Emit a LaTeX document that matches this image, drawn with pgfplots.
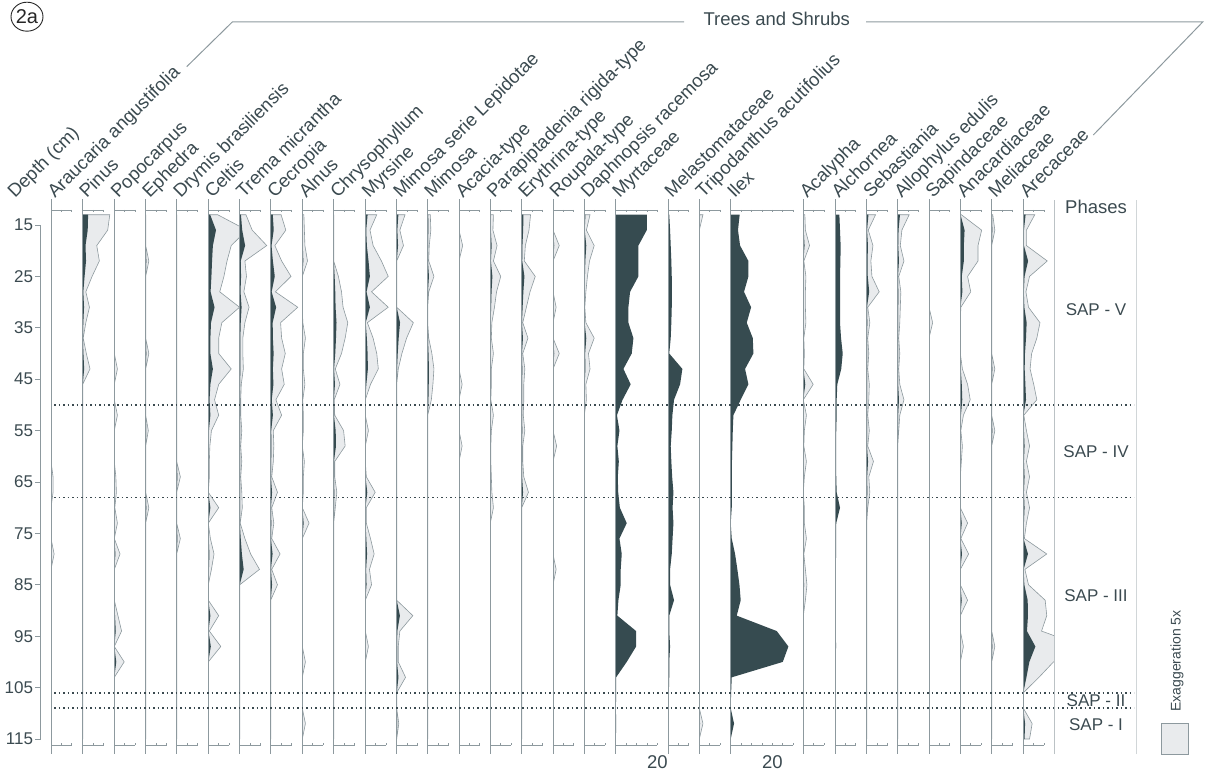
\documentclass[border=0pt]{standalone}
\usepackage{pgfplots}
\pgfplotsset{compat=1.18}
\usepackage{pgfplotstable}
\usepackage{fontspec}
\setmainfont{Liberation Sans}
\definecolor{darkf}{HTML}{364B50}
\definecolor{lightf}{HTML}{E9EBED}
\definecolor{gline}{HTML}{8D999E}
\definecolor{textc}{HTML}{3B4A50}
\newcommand{\lab}{\fontsize{18.5}{21}\selectfont}
\newcommand{\tickf}{\fontsize{17}{19}\selectfont}

% ---------- data: depth (cm), percentage ----------
\pgfplotstableread[row sep=\\]{d v\\ 13 0\\ 61 0\\ 64 0.2\\ 67 0.2\\ 70 0\\ 76 0\\ 79 0.3\\ 82 0\\ 115 0\\}\tAra
\pgfplotstableread[row sep=\\]{d v\\ 13 0\\ 13 2.6\\ 16 2.4\\ 19 1.35\\ 22 1.6\\ 25 0.9\\ 28 0.3\\ 31 0.65\\ 34 0.3\\ 37 0.05\\ 40 0.35\\ 43 0.7\\ 46 0\\ 115 0\\}\tPin
\pgfplotstableread[row sep=\\]{d v\\ 13 0\\ 40 0\\ 43 0.3\\ 46 0\\ 49 0\\ 52 0.3\\ 55 0\\ 61 0\\ 64 0.15\\ 67 0.2\\ 70 0.05\\ 73 0.3\\ 76 0\\ 79 0.55\\ 82 0\\ 88 0\\ 91 0.35\\ 94 0.7\\ 97 0\\ 100 0.95\\ 103 0\\ 115 0\\}\tPop
\pgfplotstableread[row sep=\\]{d v\\ 13 0\\ 19 0\\ 22 0.3\\ 25 0\\ 37 0\\ 40 0.3\\ 43 0\\ 52 0\\ 55 0.25\\ 58 0\\ 67 0\\ 70 0.3\\ 73 0\\ 115 0\\}\tEph
\pgfplotstableread[row sep=\\]{d v\\ 13 0\\ 61 0\\ 64 0.35\\ 67 0\\ 73 0\\ 76 0.35\\ 79 0\\ 115 0\\}\tDry
\pgfplotstableread[row sep=\\]{d v\\ 13 0\\ 13 0.9\\ 16 3.7\\ 19 2.2\\ 22 1.8\\ 25 1.5\\ 28 1.1\\ 31 3.0\\ 34 1.3\\ 37 1.0\\ 40 1.0\\ 43 2.2\\ 46 1.0\\ 49 0.6\\ 52 1.0\\ 55 0.3\\ 58 0.15\\ 61 0.1\\ 64 0.1\\ 67 0\\ 70 1.0\\ 73 0\\ 76 0.2\\ 79 0.55\\ 82 0.3\\ 85 0\\ 88 0\\ 91 1.0\\ 94 0.1\\ 97 1.2\\ 100 0\\ 115 0\\}\tCel
\pgfplotstableread[row sep=\\]{d v\\ 13 0\\ 13 0.6\\ 16 1.2\\ 19 2.6\\ 22 0.5\\ 25 0.65\\ 28 0.4\\ 31 0.9\\ 34 0.5\\ 37 0.3\\ 40 0.3\\ 43 0.35\\ 46 0.15\\ 49 0.1\\ 52 0.1\\ 55 0.2\\ 58 0.1\\ 61 0.2\\ 64 0.1\\ 67 0.2\\ 70 0.25\\ 73 0.05\\ 76 0.5\\ 79 1.05\\ 82 1.9\\ 85 0\\ 115 0\\}\tTre
\pgfplotstableread[row sep=\\]{d v\\ 13 0\\ 13 1.0\\ 16 1.45\\ 19 0.4\\ 22 1.05\\ 25 1.95\\ 28 0.45\\ 31 2.6\\ 34 0.95\\ 37 1.05\\ 40 1.4\\ 43 1.05\\ 46 1.3\\ 49 0.5\\ 52 1.05\\ 55 0.25\\ 58 0.3\\ 61 0.25\\ 64 0.1\\ 67 0.65\\ 70 0.1\\ 73 0.3\\ 76 0.1\\ 79 0.9\\ 82 0.1\\ 85 0.65\\ 88 0\\ 115 0\\}\tCec
\pgfplotstableread[row sep=\\]{d v\\ 13 0\\ 13 0.15\\ 16 0.2\\ 19 0.25\\ 22 0.5\\ 25 0\\ 31 0\\ 34 0.05\\ 37 0.3\\ 40 0.1\\ 43 0.1\\ 46 0.25\\ 49 0.05\\ 52 0.1\\ 55 0.1\\ 58 0\\ 61 0.2\\ 64 0.1\\ 67 0.1\\ 70 0\\ 73 0.65\\ 76 0\\ 97 0\\ 100 0.3\\ 103 0\\ 109 0\\ 112 0.3\\ 115 0\\}\tAln
\pgfplotstableread[row sep=\\]{d v\\ 13 0\\ 22 0\\ 25 0.45\\ 28 0.75\\ 31 0.9\\ 34 1.35\\ 37 1.1\\ 40 0.75\\ 43 0.15\\ 46 0.6\\ 49 0.05\\ 52 0.1\\ 55 0.95\\ 58 1.1\\ 61 0.1\\ 64 0.1\\ 67 0.3\\ 70 0.15\\ 73 0\\ 115 0\\}\tChr
\pgfplotstableread[row sep=\\]{d v\\ 13 0\\ 13 1.1\\ 16 0.45\\ 19 0.75\\ 22 1.55\\ 25 2.2\\ 28 0.6\\ 31 2.2\\ 34 0.2\\ 37 0.75\\ 40 1.1\\ 43 1.25\\ 46 0.5\\ 49 0\\ 52 0\\ 55 0.3\\ 58 0\\ 61 0\\ 64 0.1\\ 67 0.95\\ 70 0.1\\ 73 0.1\\ 76 0.5\\ 79 0.85\\ 82 0.4\\ 85 0.6\\ 88 0\\ 94 0\\ 97 0.3\\ 100 0\\ 115 0\\}\tMyr
\pgfplotstableread[row sep=\\]{d v\\ 13 0\\ 13 0.8\\ 16 0.3\\ 19 0.65\\ 22 0\\ 31 0\\ 34 1.6\\ 37 0.95\\ 40 0.5\\ 43 0.15\\ 46 0\\ 88 0\\ 91 1.55\\ 94 0.3\\ 97 0.15\\ 100 0.15\\ 103 0.85\\ 106 0\\ 109 0\\ 112 0.2\\ 115 0\\}\tMsl
\pgfplotstableread[row sep=\\]{d v\\ 13 0\\ 13 0.25\\ 16 0.3\\ 19 0.15\\ 22 0.1\\ 25 0.6\\ 28 0.1\\ 31 0\\ 34 0\\ 37 0.1\\ 40 0.4\\ 43 0.6\\ 46 0.5\\ 49 0.35\\ 52 0\\ 115 0\\}\tMim
\pgfplotstableread[row sep=\\]{d v\\ 13 0\\ 16 0\\ 19 0.35\\ 22 0\\ 43 0\\ 46 0.3\\ 49 0\\ 55 0\\ 58 0.3\\ 61 0\\ 115 0\\}\tAca
\pgfplotstableread[row sep=\\]{d v\\ 13 0\\ 13 0.3\\ 16 0.25\\ 19 0.65\\ 22 0.3\\ 25 1.0\\ 28 0.6\\ 31 0.4\\ 34 0.15\\ 37 0.1\\ 40 0.3\\ 43 0.1\\ 46 0.1\\ 49 0.05\\ 52 0.3\\ 55 0.1\\ 58 0.05\\ 61 0.05\\ 64 0.1\\ 67 0.15\\ 70 0.3\\ 73 0\\ 115 0\\}\tPar
\pgfplotstableread[row sep=\\]{d v\\ 13 0\\ 13 0.85\\ 16 0.7\\ 19 0.35\\ 22 0.25\\ 25 1.3\\ 28 0.8\\ 31 0.45\\ 34 0.1\\ 37 0.6\\ 40 0.1\\ 43 0.3\\ 46 0.2\\ 49 0.2\\ 52 0.15\\ 55 0.3\\ 58 0.1\\ 61 0.1\\ 64 0.2\\ 67 0.65\\ 70 0\\ 115 0\\}\tEry
\pgfplotstableread[row sep=\\]{d v\\ 13 0\\ 16 0\\ 19 0.6\\ 22 0\\ 28 0\\ 31 0.3\\ 34 0\\ 37 0\\ 40 0.6\\ 43 0\\ 55 0\\ 58 0.35\\ 61 0\\ 79 0\\ 82 0.3\\ 85 0\\ 115 0\\}\tRou
\pgfplotstableread[row sep=\\]{d v\\ 13 0\\ 13 0.55\\ 16 0.2\\ 19 0.95\\ 22 0.5\\ 25 0.3\\ 28 0.15\\ 31 0.05\\ 34 0.15\\ 37 0.95\\ 40 0.4\\ 43 0.55\\ 46 0.15\\ 49 0.2\\ 52 0\\ 115 0\\}\tDap
\pgfplotstableread[row sep=\\]{d v\\ 13 0\\ 13 14.9\\ 16 14.9\\ 19 10.9\\ 22 10.9\\ 25 10.9\\ 28 6.9\\ 31 6.1\\ 34 6.1\\ 37 8.5\\ 40 7.7\\ 43 3.7\\ 46 7.2\\ 49 3.3\\ 52 0.6\\ 55 1.8\\ 58 0.8\\ 61 1.5\\ 64 1.0\\ 67 1.2\\ 70 2.0\\ 73 5.3\\ 76 1.8\\ 79 2.9\\ 82 2.4\\ 85 2.4\\ 88 1.3\\ 91 0.8\\ 94 9.8\\ 97 9.8\\ 100 5.3\\ 103 0.2\\ 106 0.2\\ 109 0.1\\ 112 0.2\\ 115 0.1\\ 115 0\\}\tMyt
\pgfplotstableread[row sep=\\]{d v\\ 13 0\\ 13 0.6\\ 16 1.0\\ 19 1.3\\ 22 1.6\\ 25 1.8\\ 28 1.8\\ 31 1.8\\ 34 1.6\\ 37 1.3\\ 40 0.6\\ 43 6.9\\ 46 5.8\\ 49 2.9\\ 52 2.1\\ 55 1.8\\ 58 1.3\\ 61 1.6\\ 64 2.0\\ 67 2.6\\ 70 2.2\\ 73 2.6\\ 76 2.2\\ 79 1.8\\ 82 1.0\\ 85 1.0\\ 88 2.9\\ 91 0.6\\ 94 0.6\\ 97 1.0\\ 100 0.6\\ 103 0.6\\ 106 0.4\\ 109 0.3\\ 112 0.3\\ 115 0.3\\ 115 0\\}\tMel
\pgfplotstableread[row sep=\\]{d v\\ 13 0\\ 13 0.35\\ 16 0\\ 109 0\\ 112 0.35\\ 115 0\\}\tTri
\pgfplotstableread[row sep=\\]{d v\\ 13 0\\ 13 4.3\\ 16 3.5\\ 19 4.5\\ 22 8.5\\ 25 8.5\\ 28 6.4\\ 31 9.8\\ 34 7.7\\ 37 10.6\\ 40 10.9\\ 43 6.9\\ 46 8.5\\ 49 4.8\\ 52 1.3\\ 55 1.0\\ 58 0.8\\ 61 0.6\\ 64 0.5\\ 67 0.5\\ 70 0.5\\ 73 0\\ 76 0.5\\ 79 2.1\\ 82 3.2\\ 85 4.2\\ 88 4.8\\ 91 2.9\\ 94 22.1\\ 97 27.7\\ 100 25.0\\ 103 0.5\\ 106 0.2\\ 109 0\\ 112 1.6\\ 115 0\\}\tIle
\pgfplotstableread[row sep=\\]{d v\\ 13 0\\ 13 0.15\\ 16 0.2\\ 19 0.6\\ 22 0.05\\ 25 0.25\\ 28 0.2\\ 31 0.2\\ 34 0.25\\ 37 0.05\\ 40 0.1\\ 43 0.05\\ 46 0.95\\ 49 0\\ 52 0.3\\ 55 0.1\\ 58 0.05\\ 61 0.3\\ 64 0.1\\ 67 0\\ 70 0.1\\ 73 0.1\\ 76 0.3\\ 79 0.05\\ 82 0.2\\ 85 0.35\\ 88 0.2\\ 91 0\\ 115 0\\}\tAcl
\pgfplotstableread[row sep=\\]{d v\\ 13 0\\ 13 2.1\\ 16 2.4\\ 19 2.7\\ 22 2.6\\ 25 2.4\\ 28 2.4\\ 31 2.4\\ 34 2.4\\ 37 2.9\\ 40 3.7\\ 43 3.0\\ 46 1.1\\ 49 0.8\\ 52 0.8\\ 55 0.6\\ 58 0.5\\ 61 0.5\\ 64 0.6\\ 67 0.8\\ 70 2.4\\ 73 0.6\\ 76 0.5\\ 79 0.5\\ 82 0.4\\ 85 0.4\\ 88 0.4\\ 91 0.4\\ 94 0.4\\ 97 0.5\\ 100 0.3\\ 103 0\\ 115 0\\}\tAlc
\pgfplotstableread[row sep=\\]{d v\\ 13 0\\ 13 0.85\\ 16 0.15\\ 19 0.6\\ 22 0.4\\ 25 0.5\\ 28 1.2\\ 31 0.1\\ 34 0.3\\ 37 0.1\\ 40 0.2\\ 43 0.1\\ 46 0.25\\ 49 0.2\\ 52 0.1\\ 55 0.25\\ 58 0.1\\ 61 0.65\\ 64 0.2\\ 67 0.3\\ 70 0.1\\ 73 0\\ 115 0\\}\tSeb
\pgfplotstableread[row sep=\\]{d v\\ 13 0\\ 13 1.1\\ 16 0.4\\ 19 0.25\\ 22 0.6\\ 25 0.1\\ 28 0.3\\ 31 0.25\\ 34 0.2\\ 37 0.1\\ 40 0.2\\ 43 0.1\\ 46 0.2\\ 49 0.6\\ 52 0.2\\ 55 0.1\\ 58 0\\ 115 0\\}\tAll
\pgfplotstableread[row sep=\\]{d v\\ 13 0\\ 31 0\\ 34 0.35\\ 37 0\\ 115 0\\}\tSap
\pgfplotstableread[row sep=\\]{d v\\ 13 0\\ 13 0.1\\ 16 2.05\\ 19 1.7\\ 22 1.7\\ 25 0.7\\ 28 1.0\\ 31 0.05\\ 34 0\\ 40 0\\ 43 0.2\\ 46 0.7\\ 49 0.95\\ 52 0.3\\ 55 0.05\\ 58 0.2\\ 61 0.1\\ 64 0\\ 70 0\\ 73 0.7\\ 76 0.05\\ 79 0.8\\ 82 0\\ 85 0\\ 88 0.7\\ 91 0\\ 94 0\\ 97 0.3\\ 100 0\\ 115 0\\}\tAna
\pgfplotstableread[row sep=\\]{d v\\ 13 0\\ 13 0.1\\ 16 0.3\\ 19 0\\ 40 0\\ 43 0.3\\ 46 0\\ 52 0\\ 55 0.3\\ 58 0\\ 94 0\\ 97 0.3\\ 100 0\\ 115 0\\}\tMeli
\pgfplotstableread[row sep=\\]{d v\\ 13 0\\ 13 1.1\\ 16 0.3\\ 19 0.3\\ 22 2.3\\ 25 0.6\\ 28 0.25\\ 31 0.5\\ 34 1.6\\ 37 1.3\\ 40 0.8\\ 43 0.65\\ 46 1.0\\ 49 1.3\\ 52 0.05\\ 55 0.3\\ 58 0.6\\ 61 0.3\\ 64 0.6\\ 67 0.3\\ 70 0.6\\ 73 0.3\\ 76 0.1\\ 79 2.25\\ 82 0.15\\ 85 0.5\\ 88 2.1\\ 91 2.25\\ 94 1.75\\ 97 5.8\\ 100 2.9\\ 103 1.5\\ 106 0\\ 109 0\\ 112 0.85\\ 115 0.6\\ 115 0\\}\tAre

\pgfplotsset{panel/.style={scale only axis, height=555.12pt, ymin=10, ymax=118,
  y dir=reverse, xmin=0, enlargelimits=false, hide axis, clip mode=individual, anchor=south west}}

\newcommand{\drawrulers}[2]{%
  \draw[gline, line width=0.8pt] (axis cs:0,10) -- (axis cs:0,118);
  \draw[gline, line width=0.8pt] (axis cs:0,12.08) -- (axis cs:#1,12.08);
  \draw[gline, line width=0.8pt] (axis cs:0,116.17) -- (axis cs:#1,116.17);
  \pgfplotsinvokeforeach{#2}{\draw[gline, line width=0.8pt] (axis cs:##1,12.08) -- ++(0pt,-2.5pt);
    \draw[gline, line width=0.8pt] (axis cs:##1,116.17) -- ++(0pt,2.5pt);}%
}
% #1 x, #2 width, #3 xmax, #4 ruler end, #5 ticks, #6 table
\newcommand{\panelE}[6]{%
  \begin{axis}[panel, at={(#1pt,22.58pt)}, width=#2pt, xmax=#3]
    \addplot[fill=lightf, draw=gline, line width=0.6pt] table[x expr=5*\thisrow{v}, y=d]{#6} -- cycle;
    \addplot[fill=darkf, draw=none] table[x=v, y=d]{#6} -- cycle;
    \drawrulers{#4}{#5}
  \end{axis}}
\newcommand{\panelD}[6]{%
  \begin{axis}[panel, at={(#1pt,22.58pt)}, width=#2pt, xmax=#3]
    \addplot[fill=darkf, draw=none] table[x=v, y=d]{#6} -- cycle;
    \drawrulers{#4}{#5}
  \end{axis}}
\newcommand{\taxon}[2]{\node[rotate=45, anchor=base west, inner sep=0pt, font=\lab, text=textc] at (#1pt+4pt,578pt) {#2};}

\begin{document}
\begin{tikzpicture}[x=1pt,y=1pt]
\path[use as bounding box] (0,0) rectangle (1207,777);

% depth axis
\begin{axis}[scale only axis, at={(40.7pt,22.58pt)}, anchor=south west, width=10pt, height=555.12pt,
  ymin=10, ymax=118, y dir=reverse, xmin=0, xmax=1,
  axis x line=none, axis y line=left, y axis line style={draw=none},
  ytick={15,25,...,115}, tick align=outside, major tick length=5.5pt,
  ytick style={gline, line width=0.8pt},
  yticklabel style={font=\tickf, text=textc, inner sep=0pt, xshift=-2pt},
  /pgf/number format/assume math mode=true, clip=false]
  \draw[gline, line width=0.8pt] (axis cs:0,15) -- (axis cs:0,115);
\end{axis}

\panelE{51.0}{31.35}{15.05}{10}{5,10}{\tAra}
\panelE{82.7}{31.35}{15.05}{10}{5,10}{\tPin}
\panelE{114.3}{31.35}{15.05}{10}{5,10}{\tPop}
\panelE{145.7}{31.35}{15.05}{10}{5,10}{\tEph}
\panelE{176.7}{31.35}{15.05}{10}{5,10}{\tDry}
\panelE{208.3}{31.35}{15.05}{10}{5,10}{\tCel}
\panelE{239.7}{31.35}{15.05}{10}{5,10}{\tTre}
\panelE{270.7}{31.35}{15.05}{10}{5,10}{\tCec}
\panelE{302.3}{31.35}{15.05}{10}{5,10}{\tAln}
\panelE{333.7}{31.35}{15.05}{10}{5,10}{\tChr}
\panelE{365.3}{31.35}{15.05}{10}{5,10}{\tMyr}
\panelE{396.7}{31.35}{15.05}{10}{5,10}{\tMsl}
\panelE{427.7}{31.35}{15.05}{10}{5,10}{\tMim}
\panelE{459.0}{31.35}{15.05}{10}{5,10}{\tAca}
\panelE{490.3}{31.35}{15.05}{10}{5,10}{\tPar}
\panelE{521.7}{31.35}{15.05}{10}{5,10}{\tEry}
\panelE{553.0}{31.35}{15.05}{10}{5,10}{\tRou}
\panelE{584.3}{31.35}{15.05}{10}{5,10}{\tDap}
\panelD{615.7}{52.3}{25.1}{20}{5,10,15,20}{\tMyt}
\panelD{668.0}{31.35}{15.05}{10}{5,10}{\tMel}
\panelE{699.3}{31.35}{15.05}{10}{5,10}{\tTri}
\panelD{730.7}{72.6}{34.85}{30}{5,10,15,20,25,30}{\tIle}
\panelE{803.3}{31.35}{15.05}{10}{5,10}{\tAcl}
\panelD{835.0}{31.35}{15.05}{10}{5,10}{\tAlc}
\panelE{866.7}{31.35}{15.05}{10}{5,10}{\tSeb}
\panelE{897.7}{31.35}{15.05}{10}{5,10}{\tAll}
\panelE{929.0}{31.35}{15.05}{10}{5,10}{\tSap}
\panelE{960.3}{31.35}{15.05}{10}{5,10}{\tAna}
\panelE{991.7}{31.35}{15.05}{10}{5,10}{\tMeli}
\panelE{1023.3}{31.0}{14.88}{10}{5,10}{\tAre}

% phase zone lines
\foreach \yy in {372.1,279.6,84.3,68.8}
  \draw[textc, line width=1.6pt, dash pattern=on 1.6pt off 2.9pt] (54,\yy) -- (1134,\yy);
\draw[gline!60, line width=0.8pt] (1054.3,23) -- (1054.3,577);
\draw[gline!40, line width=0.8pt] (1136.7,23) -- (1136.7,577);

% labels
\node[rotate=45, anchor=base west, inner sep=0pt, font=\lab, text=textc] at (15,578) {Depth (cm)};
\taxon{51.0}{Araucaria angustifolia}
\taxon{82.7}{Pinus}
\taxon{114.3}{Popocarpus}
\taxon{145.7}{Ephedra}
\taxon{176.7}{Drymis brasiliensis}
\taxon{208.3}{Celtis}
\taxon{239.7}{Trema micrantha}
\taxon{270.7}{Cecropia}
\taxon{302.3}{Alnus}
\taxon{333.7}{Chrysophyllum}
\taxon{365.3}{Myrsine}
\taxon{396.7}{Mimosa serie Lepidotae}
\taxon{427.7}{Mimosa}
\taxon{459.0}{Acacia-type}
\taxon{490.3}{Parapiptadenia rigida-type}
\taxon{521.7}{Erythrina-type}
\taxon{553.0}{Roupala-type}
\taxon{584.3}{Daphnopsis racemosa}
\taxon{615.7}{Myrtaceae}
\taxon{668.0}{Melastomataceae}
\taxon{699.3}{Tripodanthus acutifolius}
\taxon{730.7}{Ilex}
\taxon{803.3}{Acalypha}
\taxon{835.0}{Alchornea}
\taxon{866.7}{Sebastiania}
\taxon{897.7}{Allophylus edulis}
\taxon{929.0}{Sapindaceae}
\taxon{960.3}{Anacardiaceae}
\taxon{991.7}{Meliaceae}
\taxon{1023.3}{Arecaceae}

\node[anchor=base, font=\lab, text=textc] at (657.4,8.7) {20};
\node[anchor=base, font=\lab, text=textc] at (772.4,8.7) {20};

% group bracket
\draw[gline, line width=1pt] (186.7,710.3) -- (232.3,755) -- (684,755);
\draw[gline, line width=1pt] (866,755) -- (1202.7,755) -- (1093.3,642);
\node[anchor=base, font=\lab, text=textc] at (776.7,751) {Trees and Shrubs};

% panel id
\draw[black!85, line width=0.9pt] (27,760.3) ellipse (16 and 14.5);
\node[font=\fontsize{20}{21}\selectfont, text=black!85] at (27,760.3) {2a};

% phases
\node[font=\lab, text=textc] at (1096,570.3) {Phases};
\node[font=\tickf, text=textc] at (1096,467) {SAP - V};
\node[font=\tickf, text=textc] at (1096,325.3) {SAP - IV};
\node[font=\tickf, text=textc] at (1096,181.3) {SAP - III};
\node[font=\tickf, text=textc] at (1096,76.3) {SAP - II};
\node[font=\tickf, text=textc] at (1096,52.7) {SAP - I};

% legend
\draw[gline, fill=lightf, line width=0.8pt] (1161,23) rectangle (1188,54);
\node[rotate=90, font=\fontsize{14}{15}\selectfont, text=textc] at (1177,116) {Exaggeration 5x};
\end{tikzpicture}
\end{document}
